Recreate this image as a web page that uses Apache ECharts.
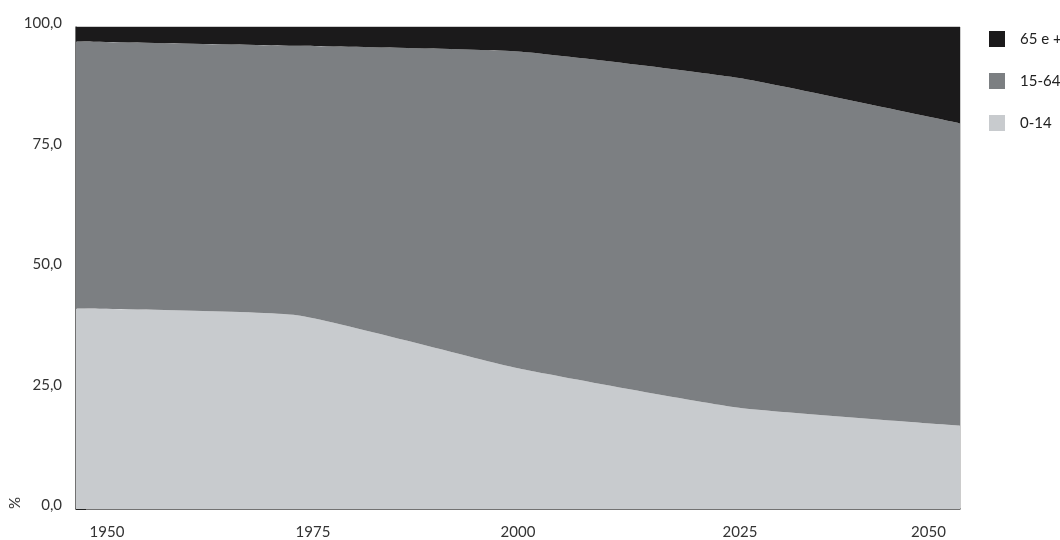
<!DOCTYPE html>
<html>
<head>
<meta charset="utf-8">
<script src="https://cdn.jsdelivr.net/npm/echarts@6/dist/echarts.min.js"></script>
<style>html,body{margin:0;padding:0;background:#fff}#c{width:1060px;height:540px}</style>
</head>
<body>
<div id="c"></div>
<script>
const years = ['1950', '1975', '2000', '2025', '2050'];
const age0_14 = [41.6, 40.2, 29.2, 21.0, 17.3];
const age15_64 = [55.4, 55.9, 65.7, 68.4, 62.7];
const age65plus = [3.0, 3.9, 5.1, 10.6, 20.0];
const yTicks = [0, 25, 50, 75, 100];
const seriesNames = ['0-14', '15-64', '65 e +'];

const colors = ['#c8cbce', '#7c7f82', '#1b1a1b'];
const font = 'Lato, "Open Sans", sans-serif';
const fs = 15;
const chart = echarts.init(document.getElementById('c'));

function mkSeries(name, data, color) {
  return {
    name: name, type: 'line', stack: 'total', data: data,
    smooth: 0.15, symbol: 'none',
    lineStyle: { width: 0 },
    areaStyle: { color: color, opacity: 1 },
    itemStyle: { color: color }
  };
}

chart.setOption({
  animation: false,
  textStyle: { fontFamily: font },
  grid: { left: 76, right: 100, top: 27, bottom: 28.5, show: true, borderColor: '#9a9a9a', borderWidth: 1 },
  legend: {
    orient: 'vertical', left: 984, top: 26,
    itemWidth: 16, itemHeight: 16, itemGap: 26,
    icon: 'rect',
    data: [seriesNames[2], seriesNames[1], seriesNames[0]],
    textStyle: { fontSize: fs, color: '#222', fontFamily: font, padding: [0, 0, 0, 10] }
  },
  xAxis: {
    type: 'category', data: years, boundaryGap: false,
    axisLine: { lineStyle: { color: '#555', width: 1.5 } },
    axisTick: { show: false },
    axisLabel: {
      fontSize: fs, color: '#333', margin: 16, fontFamily: font,
      formatter: function (v, i) { return '{p' + i + '|' + v + '}'; },
      rich: {
        p0: { fontSize: fs, color: '#333', fontFamily: font, padding: [0, 0, 0, 62] },
        p1: { fontSize: fs, color: '#333', fontFamily: font, padding: [0, 0, 0, 32] },
        p2: { fontSize: fs, color: '#333', fontFamily: font },
        p3: { fontSize: fs, color: '#333', fontFamily: font, padding: [0, 0, 0, 2] },
        p4: { fontSize: fs, color: '#333', fontFamily: font, padding: [0, 63, 0, 0] }
      }
    }
  },
  yAxis: {
    type: 'value', min: yTicks[0], max: yTicks[yTicks.length - 1], interval: 25,
    axisLine: { show: true, lineStyle: { color: '#555', width: 1.5 } },
    axisTick: { show: true, inside: true, length: 10, lineStyle: { color: '#222', width: 1 } },
    splitLine: { show: false },
    axisLabel: {
      fontSize: fs, color: '#333', margin: 14, fontFamily: font,
      formatter: function (v) { return '{a|' + v.toFixed(1).replace('.', ',') + '}'; },
      rich: { a: { fontSize: fs, color: '#333', fontFamily: font, padding: [0, 0, 7, 0] } }
    }
  },
  graphic: [{
    type: 'text', left: 8, top: 497, rotation: Math.PI / 2,
    style: { text: '%', fontSize: fs, fill: '#333', fontFamily: font }
  }],
  series: [
    mkSeries(seriesNames[0], age0_14, colors[0]),
    mkSeries(seriesNames[1], age15_64, colors[1]),
    mkSeries(seriesNames[2], age65plus, colors[2])
  ]
});
</script>
</body>
</html>
